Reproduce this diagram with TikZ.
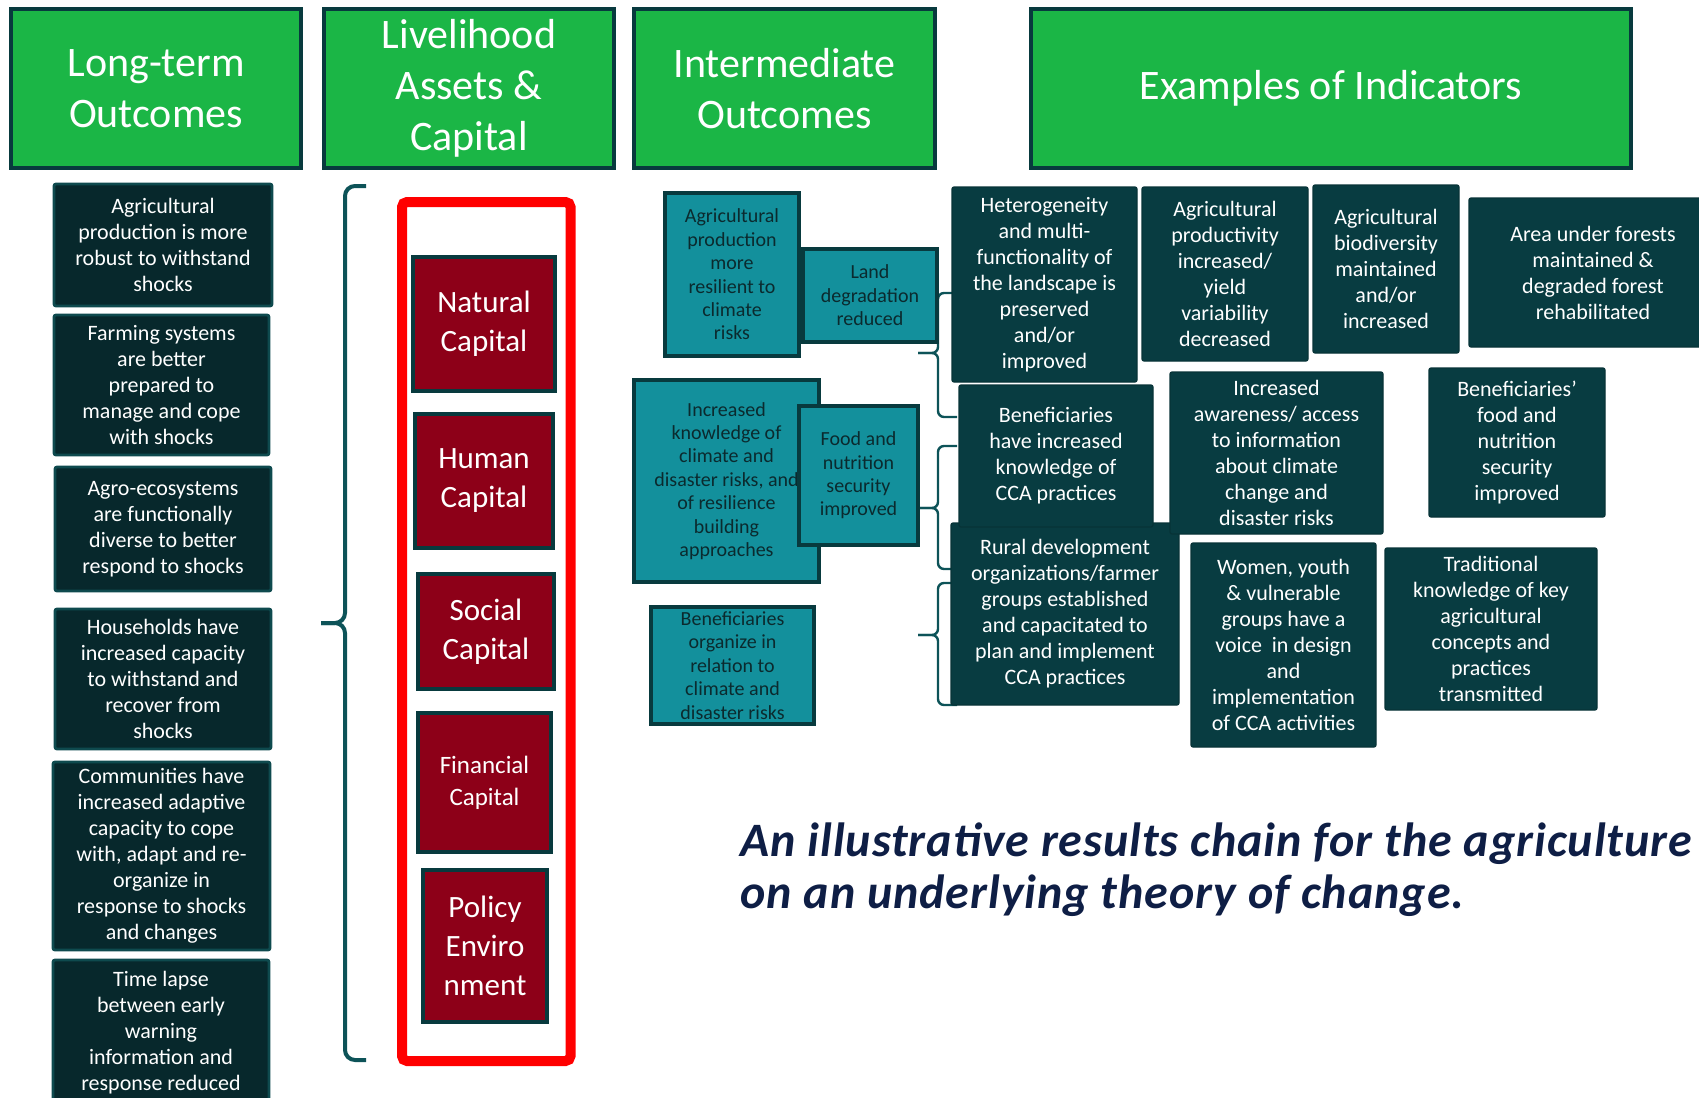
\documentclass[tikz,border=0pt]{standalone}
\usepackage{fontspec}
\setmainfont{Carlito}
\newfontfamily\capfont[LetterSpace=2]{Carlito}

\definecolor{hdrgreen}{HTML}{1BB646}
\definecolor{darkrim}{HTML}{083A3E}
\definecolor{deepteal}{HTML}{07282C}
\definecolor{leftrim}{HTML}{0E4A4E}
\definecolor{indteal}{HTML}{083C41}
\definecolor{capred}{HTML}{8D0018}
\definecolor{midteal}{HTML}{13909C}
\definecolor{bracecol}{HTML}{0D5358}
\definecolor{capnavy}{HTML}{0E1E45}
\definecolor{ink}{HTML}{0B2A2E}

\tikzset{
  header/.style={draw=darkrim, line width=2.4pt, fill=hdrgreen, text=white,
    align=center, inner sep=0pt, minimum height=79.5pt,
    font=\fontsize{21}{25.5}\selectfont},
  longterm/.style={draw=leftrim, line width=1.4pt, fill=deepteal, text=white,
    rounded corners=1pt, align=center, inner sep=0pt,
    font=\fontsize{11}{13}\selectfont},
  capital/.style={draw=darkrim, line width=2pt, fill=capred, text=white,
    align=center, inner sep=0pt, font=\fontsize{15.5}{19.5}\selectfont},
  interm/.style={draw=darkrim, line width=2pt, fill=midteal, text=ink,
    align=center, inner sep=0pt, font=\fontsize{10}{11.7}\selectfont},
  indicator/.style={draw=indteal!85!black, line width=0.6pt, fill=indteal,
    text=white, rounded corners=1pt, align=center, inner sep=0pt,
    font=\fontsize{11}{13}\selectfont},
  redframe/.style={draw=red, line width=5pt, rounded corners=2.5pt},
  curly/.style={draw=bracecol, line width=2pt, rounded corners=5pt},
  smallcurly/.style={draw=bracecol, line width=1.2pt, rounded corners=3pt},
  caption/.style={anchor=base west, inner sep=0pt, text=capnavy,
    font=\capfont\fontsize{24}{26}\selectfont\bfseries\itshape},
}

\begin{document}
\begin{tikzpicture}[x=0.5pt,y=-0.5pt]
\useasboundingbox (0,0) rectangle (1699,1098);
\clip (0,0) rectangle (1699,1098);

% column headers
\node[header, minimum width=145pt] (lt) at (156,88.5) {Long-term\\Outcomes};
\node[header, minimum width=145pt] (la) at (469,88.5) {Livelihood\\Assets \&\\Capital};
\node[header, minimum width=150.5pt] (io) at (784.5,88.5) {Intermediate\\Outcomes};
\node[header, minimum width=300pt] (ex) at (1331,88.5) {Examples of Indicators};

% long-term outcomes
\node[longterm, minimum width=109pt, minimum height=61pt] (lt1) at (163,245)
  {Agricultural\\production is more\\robust to withstand\\shocks};
\node[longterm, minimum width=107.5pt, minimum height=70pt] (lt2) at (161.5,385)
  {Farming systems\\are better\\prepared to\\manage and cope\\with shocks};
\node[longterm, minimum width=108pt, minimum height=62pt] (lt3) at (163,529)
  {Agro-ecosystems\\are functionally\\diverse to better\\respond to shocks};
\node[longterm, minimum width=108pt, minimum height=70pt] (lt4) at (163,679)
  {Households have\\increased capacity\\to withstand and\\recover from\\shocks};
\node[longterm, minimum width=108.5pt, minimum height=94pt] (lt5) at (161.5,856)
  {Communities have\\increased adaptive\\capacity to cope\\with, adapt and re-\\organize in\\response to shocks\\and changes};
\node[longterm, minimum width=108pt, minimum height=73pt] (lt6) at (161,1033)
  {Time lapse\\between early\\warning\\information and\\response reduced};

% brace over the assets
\draw[curly] (366,186) -| (345,623) -- (321,623);
\draw[curly] (366,1060) -| (345,623) -- (321,623);

% livelihood assets
\node[redframe, minimum width=84.25pt, minimum height=429.5pt] (assets) at (486.25,631.5) {};
\node[capital, minimum width=71pt, minimum height=67pt] (nat) at (484,324) {Natural\\Capital};
\node[capital, minimum width=69pt, minimum height=67pt] (hum) at (484,481) {Human\\Capital};
\node[capital, minimum width=68pt, minimum height=57.5pt] (soc) at (486,631.5) {Social\\Capital};
\node[capital, minimum width=66.5pt, minimum height=69.5pt,
  font=\fontsize{12.5}{16}\selectfont] (fin) at (484.5,782.5) {Financial\\Capital};
\node[capital, minimum width=62pt, minimum height=76pt] (pol) at (485,946) {Policy\\Enviro\\nment};

% small braces to the indicators
\draw[smallcurly] (957,293) -| (938,353) -- (918,353);
\draw[smallcurly] (957,417) -| (938,353) -- (918,353);
\draw[smallcurly] (957,446) -| (938,508) -- (918,508);
\draw[smallcurly] (957,569) -| (938,508) -- (918,508);
\draw[smallcurly] (957,583) -| (938,635) -- (918,635);
\draw[smallcurly] (957,705) -| (938,635) -- (918,635);

% intermediate outcomes
\node[interm, minimum width=67pt, minimum height=81.5pt] (im1) at (732,274.5)
  {Agricultural\\production\\more\\resilient to\\climate\\risks};
\node[interm, minimum width=67pt, minimum height=46.5pt] (im2) at (870,295.5)
  {Land\\degradation\\reduced};
\node[interm, minimum width=92.5pt, minimum height=101pt] (im3) at (726.5,481)
  {Increased\\knowledge of\\climate and\\disaster risks, and\\of resilience\\building\\approaches};
\node[interm, minimum width=59.5pt, minimum height=69.5pt] (im4) at (858.5,475.5)
  {Food and\\nutrition\\security\\improved};
\node[interm, minimum width=81.5pt, minimum height=58.5pt] (im5) at (732.5,665.5)
  {Beneficiaries\\organize in\\relation to\\climate and\\disaster risks};

% examples of indicators
\node[indicator, minimum width=114pt, minimum height=91pt] (ind8) at (1065,614)
  {Rural development\\organizations/farmer\\groups established\\and capacitated to\\plan and implement\\CCA practices};
\node[indicator, minimum width=97pt, minimum height=71pt] (ind5) at (1056,456)
  {Beneficiaries\\have increased\\knowledge of\\CCA practices};
\node[indicator, minimum width=92.5pt, minimum height=97.5pt] (ind1) at (1044.5,284.5)
  {Heterogeneity\\and multi-\\functionality of\\the landscape is\\preserved\\and/or\\improved};
\node[indicator, minimum width=83pt, minimum height=87pt] (ind2) at (1225,274)
  {Agricultural\\productivity\\increased/\\yield\\variability\\decreased};
\node[indicator, minimum width=73pt, minimum height=84pt] (ind3) at (1386,269)
  {Agricultural\\biodiversity\\maintained\\and/or\\increased};
\node[indicator, minimum width=124pt, minimum height=74.5pt] (ind4) at (1593,272.5)
  {Area under forests\\maintained \&\\degraded forest\\rehabilitated};
\node[indicator, minimum width=106.5pt, minimum height=81pt] (ind6) at (1276.5,453)
  {Increased\\awareness/ access\\to information\\about climate\\change and\\disaster risks};
\node[indicator, minimum width=88pt, minimum height=74.5pt] (ind7) at (1517,442.5)
  {Beneficiaries’\\food and\\nutrition\\security\\improved};
\node[indicator, minimum width=92.5pt, minimum height=102pt] (ind9) at (1283.5,645)
  {Women, youth\\\& vulnerable\\groups have a\\voice\ \ in design\\and\\implementation\\of CCA activities};
\node[indicator, minimum width=106pt, minimum height=81pt] (ind10) at (1491,629)
  {Traditional\\knowledge of key\\agricultural\\concepts and\\practices\\transmitted};

% caption
\node[caption] (cap1) at (740,856) {An illustrative results chain for the agriculture};
\node[caption] (cap2) at (740,908) {on an underlying theory of change.};
\end{tikzpicture}
\end{document}
